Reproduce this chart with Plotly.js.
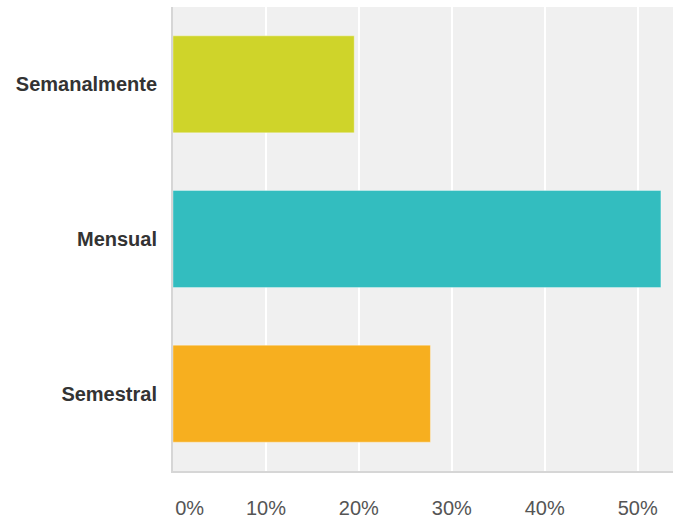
<!DOCTYPE html>
<html>
<head>
<meta charset="utf-8">
<script src="https://cdn.plot.ly/plotly-3.0.1.min.js"></script>
<style>html,body{margin:0;padding:0;background:#fff;}#chart{width:673px;height:523px;}</style>
</head>
<body>
<div id="chart"></div>
<script>
const categories = ['Semanalmente', 'Mensual', 'Semestral'];
const values = [19.5, 52.5, 27.7];
const barColors = ['#cfd42a', '#33bdbf', '#f7af1f'];
const tickValues = [0, 10, 20, 30, 40, 50];
const tickLabels = ['\u00a0\u00a0\u00a0\u00a0\u00a0\u00a00%', '10%', '20%', '30%', '40%', '50%'];

const trace = {
  type: 'bar',
  orientation: 'h',
  y: categories,
  x: values,
  marker: {color: barColors, line: {color: 'rgba(255,255,255,0.35)', width: 1}},
  hoverinfo: 'x+y'
};

const layout = {
  width: 673,
  height: 523,
  margin: {l: 173, r: 0, t: 7, b: 52, pad: 0},
  paper_bgcolor: '#ffffff',
  plot_bgcolor: '#f0f0f0',
  bargap: 0.373,
  showlegend: false,
  font: {family: 'Liberation Sans, Arial, sans-serif'},
  xaxis: {
    range: [0, 53.8],
    tickvals: tickValues,
    ticktext: tickLabels,
    showgrid: true,
    gridcolor: '#ffffff',
    gridwidth: 2,
    zeroline: false,
    showline: true,
    linecolor: '#d6d6d6',
    linewidth: 2,
    ticks: '',
    ticklabelstandoff: 18,
    tickfont: {size: 20, color: '#555555'},
    fixedrange: true
  },
  yaxis: {
    categoryorder: 'array',
    categoryarray: categories,
    autorange: 'reversed',
    showgrid: false,
    zeroline: false,
    showline: true,
    linecolor: '#d6d6d6',
    linewidth: 2,
    ticks: '',
    ticklabelstandoff: 10,
    tickfont: {size: 20, color: '#333333', weight: 'bold'},
    fixedrange: true
  }
};

Plotly.newPlot('chart', [trace], layout, {displayModeBar: false, staticPlot: true});
</script>
</body>
</html>
